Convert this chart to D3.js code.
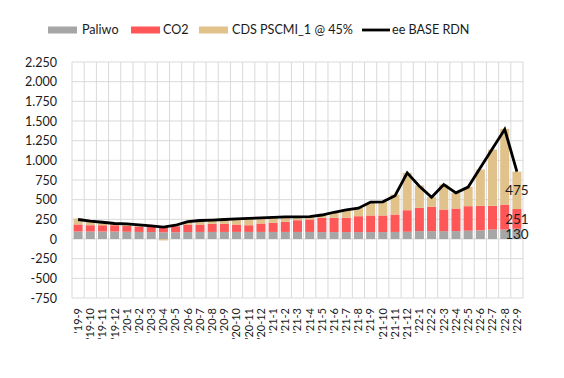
<!DOCTYPE html>
<html><head><meta charset="utf-8">
<script src="https://cdn.jsdelivr.net/npm/d3@7"></script>
<style>body{margin:0;background:#fff}svg{display:block;font-family:Lato,"Liberation Sans",Arial,sans-serif}</style>
</head><body><svg id="c" width="564" height="378"></svg>
<script>
const categories = ["'19-9","'19-10","'19-11","'19-12","'20-1","'20-2","'20-3","'20-4","'20-5","'20-6","'20-7","'20-8","'20-9","'20-10","'20-11","'20-12","'21-1","'21-2","'21-3","'21-4","'21-5","'21-6","'21-7","'21-8","'21-9","'21-10","'21-11","'21-12","'22-1","'22-2","'22-3","'22-4","'22-5","'22-6","'22-7","'22-8","'22-9"];
const paliwo = [95,95,95,95,92,90,88,85,85,88,90,90,90,90,90,90,90,90,90,90,88,88,88,88,88,88,90,92,100,100,100,100,105,110,120,120,130];
const co2 = [90,80,80,80,75,69,67,65,78,96,94,103,103,94,85,107,116,128,149,158,181,181,184,202,211,211,221,274,296,309,275,288,312,312,302,318,251];
const cds = [75,51,38,22,26,21,13,-18,12,36,51,47,55,71,87,71,68,62,43,37,36,71,98,106,161,173,254,475,284,127,317,199,246,461,715,962,475];
const eeBase = [248,226,213,197,193,180,168,152,175,220,235,240,248,255,262,268,274,280,282,285,305,340,370,392,470,472,550,840,671,531,692,587,660,905,1150,1395,856];
const yTicks = [-750,-500,-250,0,250,500,750,1000,1250,1500,1750,2000,2250];
const seriesNames = ["Paliwo","CO2","CDS PSCMI_1 @ 45%","ee BASE RDN"];
const colors = ["#a6a6a6","#ff5757","#e0c28a","#000000"];

const FONT = "Lato,'Liberation Sans',Arial,sans-serif";
const TXT = "#1a1a1a";
const svg = d3.select("#c");
const L = 72, R = 523, T = 62, B = 298;
const x = d3.scaleBand().domain(categories).range([L, R]).paddingInner(0.26).paddingOuter(0.13);
const y = d3.scaleLinear().domain([-750, 2250]).range([B, T]);
const fmt = v => d3.format(",")(v).replace(/,/g, ".").replace("\u2212", "-");

// gridlines
const step = (R - L) / categories.length;
const g = svg.append("g");
g.selectAll("line.h").data(yTicks).join("line")
  .attr("x1", L).attr("x2", R).attr("y1", d => y(d)).attr("y2", d => y(d))
  .attr("stroke", "#d9d9d9").attr("stroke-width", 1);
g.selectAll("line.v").data(d3.range(categories.length + 1)).join("line")
  .attr("x1", i => L + i * step).attr("x2", i => L + i * step).attr("y1", T).attr("y2", B)
  .attr("stroke", "#d9d9d9").attr("stroke-width", 1);

// y axis labels
const yAxis = d3.axisLeft(y).tickValues(yTicks).tickFormat(fmt).tickSize(0).tickPadding(15);
svg.append("g").attr("transform", `translate(${L},0)`).call(yAxis)
  .call(s => s.select(".domain").remove())
  .selectAll("text").attr("font-size", 12.5).attr("fill", TXT).attr("font-family", FONT);

// x axis labels
const xAxis = d3.axisBottom(x).tickSize(0).tickPadding(0);
svg.append("g").attr("transform", `translate(0,${B})`).call(xAxis)
  .call(s => s.select(".domain").remove())
  .selectAll("text").attr("font-size", 11).attr("fill", TXT).attr("font-family", FONT)
  .attr("text-anchor", "end").attr("dy", "0.35em")
  .attr("transform", "translate(0,10) rotate(-90)").attr("x", 0).attr("y", 0);

// stacked bars
const rows = categories.map((c, i) => ({c, p: paliwo[i], co: co2[i], cd: cds[i]}));
const stack = d3.stack().keys(["p","co","cd"]).offset(d3.stackOffsetDiverging)(rows);
svg.append("g").selectAll("g").data(stack).join("g").attr("fill", (d, i) => colors[i])
  .selectAll("rect").data(d => d).join("rect")
  .attr("x", d => x(d.data.c)).attr("width", x.bandwidth())
  .attr("y", d => y(Math.max(d[0], d[1]))).attr("height", d => Math.abs(y(d[0]) - y(d[1])));

// line
const line = d3.line().x((d, i) => x(categories[i]) + x.bandwidth() / 2).y(d => y(d));
svg.append("path").datum(eeBase).attr("d", line).attr("fill", "none")
  .attr("stroke", "#000").attr("stroke-width", 2.8).attr("stroke-linejoin", "miter");

// data labels on last bar
const last = stack.map(s => s[s.length - 1]);
const lastVals = [paliwo[paliwo.length - 1], co2[co2.length - 1], cds[cds.length - 1]];
svg.append("g").selectAll("text").data(last).join("text")
  .attr("x", d => x(d.data.c) + x.bandwidth() / 2)
  .attr("y", d => y((d[0] + d[1]) / 2)).attr("dy", "0.35em")
  .attr("text-anchor", "middle").attr("font-size", 13.5).attr("fill", TXT).attr("font-family", FONT)
  .text((d, i) => lastVals[i]);

// legend
const leg = svg.append("g");
const items = [
  {x: 48, tx: 82, type: "rect"},
  {x: 131, tx: 163, type: "rect"},
  {x: 199, tx: 232, type: "rect"},
  {x: 362, tx: 392, type: "line"}
];
items.forEach((it, i) => {
  if (it.type === "rect") {
    leg.append("rect").attr("x", it.x).attr("y", 26.5).attr("width", 29).attr("height", 7).attr("fill", colors[i]);
  } else {
    leg.append("line").attr("x1", it.x).attr("x2", it.x + 28).attr("y1", 30).attr("y2", 30)
      .attr("stroke", "#000").attr("stroke-width", 2.8);
  }
  leg.append("text").attr("x", it.tx).attr("y", 30).attr("dy", "0.35em")
    .attr("font-size", 12.6).attr("fill", TXT).attr("font-family", FONT).text(seriesNames[i]);
});
</script></body></html>
